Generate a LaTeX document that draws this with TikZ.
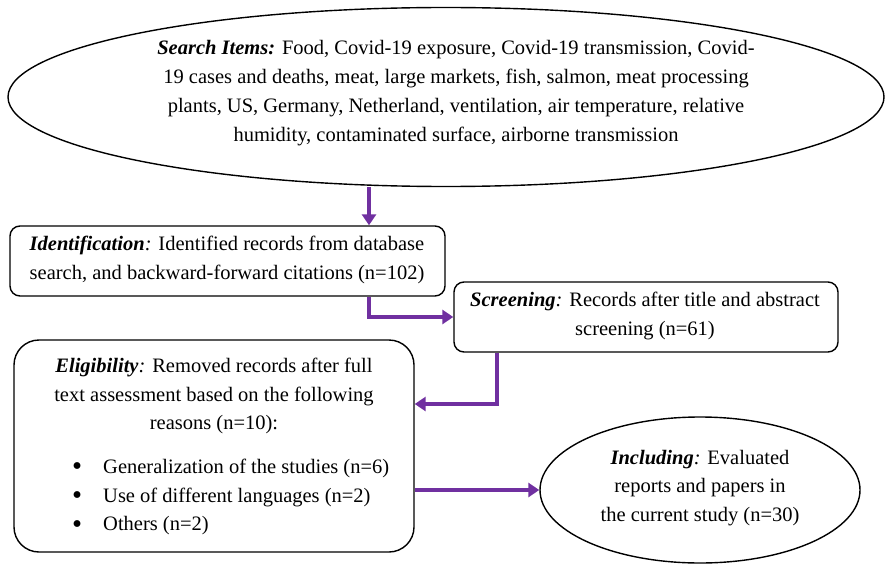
\documentclass[tikz,border=0pt]{standalone}
\usepackage{fontspec}
\usepackage{graphicx}
\setmainfont{Liberation Serif}
\usetikzlibrary{shapes.geometric,arrows.meta}
\definecolor{flowpurple}{HTML}{7030A0}
\newcommand{\bi}[1]{\textbf{\textit{#1}}}
\newcommand{\bigbul}{\makebox[31pt][l]{\raisebox{-2.5pt}{\scalebox{1.4}{\textbullet}}}}
\begin{document}
\begin{tikzpicture}[x=1pt,y=-1pt,
 txt/.style={font=\fontsize{20.5}{28.8}\selectfont, align=center, inner sep=0},
 oval/.style={draw=black, line width=1.4pt, ellipse, inner sep=0},
 rbox/.style={draw=black, line width=1.4pt, rectangle, rounded corners=10pt, inner sep=0},
 flow/.style={draw=flowpurple, line width=3.5pt, -{Triangle[length=11pt,width=14pt]}}]
\useasboundingbox (0,0) rectangle (885,564);
% shapes
\node[oval, minimum width=876, minimum height=179] (search) at (446,97) {};
\node[rbox, minimum width=435, minimum height=70] (ident) at (227.5,261) {};
\node[rbox, minimum width=384, minimum height=70] (screen) at (646,317) {};
\node[rbox, rounded corners=25pt, minimum width=400, minimum height=212] (elig) at (214,446) {};
\node[oval, minimum width=320, minimum height=146] (incl) at (700,490) {};
% texts
\node[txt] (searchT) at (456,93) {\bi{Search Items:} Food, Covid-19 exposure, Covid-19 transmission, Covid-\\19 cases and deaths, meat, large markets, fish, salmon, meat processing\\plants, US, Germany, Netherland, ventilation, air temperature, relative\\humidity, contaminated surface, airborne transmission};
\node[txt] (identT) at (227,260) {\bi{Identification}\textit{:} Identified records from database\\search, and backward-forward citations (n=102)};
\node[txt] (screenT) at (645,316) {\bi{Screening}\textit{:} Records after title and abstract\\screening (n=61)};
\node[txt] (eligT) at (214,396) {\bi{Eligibility}\textit{:} Removed records after full\\text assessment based on the following\\reasons (n=10):};
\node[txt, anchor=west, align=left] (eligL) at (72,497) {\bigbul Generalization of the studies (n=6)\\
\bigbul Use of different languages (n=2)\\
\bigbul Others (n=2)};
\node[txt] (inclT) at (700,488) {\bi{Including}\textit{:} Evaluated\\reports and papers in\\the current study (n=30)};
% connectors
\coordinate (c1) at (369,0);
\coordinate (c2) at (497,404);
\draw[flow] (c1 |- search.south) -- (c1 |- ident.north);
\draw[flow] (c1 |- ident.south) |- (screen.west);
\draw[flow] (c2 |- screen.south) |- (c2 -| elig.east);
\draw[flow] (elig.east |- incl.west) -- (incl.west);
\end{tikzpicture}
\end{document}
